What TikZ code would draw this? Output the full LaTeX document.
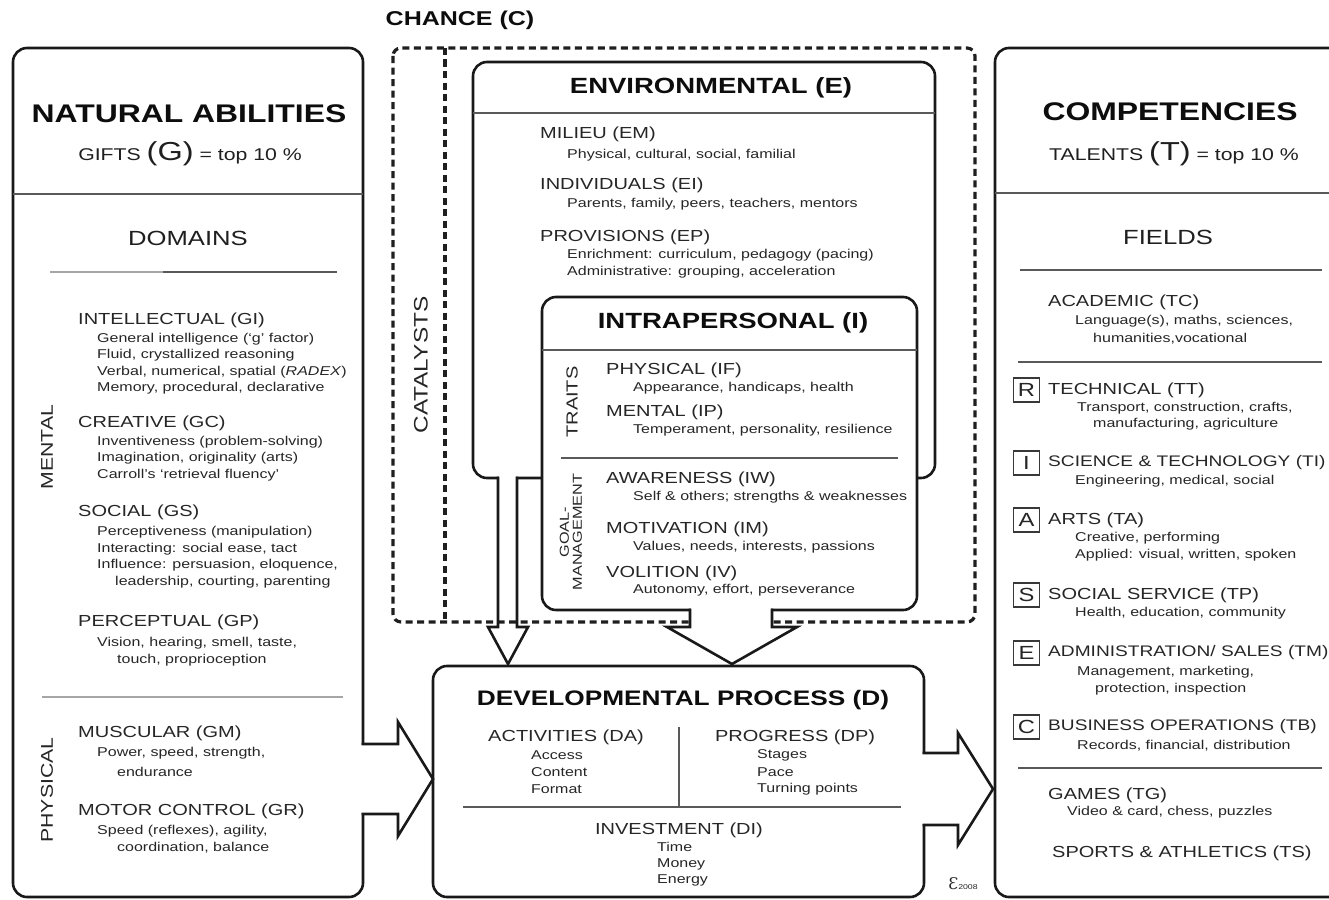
\documentclass[tikz,border=0pt]{standalone}
\usepackage{fontspec}
\setmainfont{Liberation Sans}[FakeStretch=1.25]
\newfontfamily\logofont{DejaVu Serif}
\newcommand\setfs[1]{\fontsize{#1}{#1}\selectfont}
\begin{document}
\begin{tikzpicture}[x=1pt,y=-1pt,
  box/.style={line width=2.6pt, draw=black!90, rounded corners=14pt},
  arr/.style={line width=2.6pt, draw=black!90, line join=miter, miter limit=20},
  chance/.style={line width=3.2pt, draw=black!88, dash pattern=on 7pt off 4.5pt},
  sepline/.style={line width=1.3pt, draw=black!65},
  faintline/.style={line width=1.1pt, draw=black!35},
  ttl/.style={font=\bfseries\setfs{22}, text=black!95, inner sep=0pt},
  bigttl/.style={font=\bfseries\setfs{25.5}, text=black!95, inner sep=0pt},
  sect/.style={font=\setfs{20.5}, text=black!88, inner sep=0pt},
  hd/.style={anchor=west, font=\setfs{16}, text=black!85, inner sep=0pt},
  sb/.style={anchor=west, font=\setfs{12.8}, text=black!85, inner sep=0pt},
  side/.style={rotate=90, font=\setfs{17}, text=black!85, inner sep=0pt},
  lbox/.style={draw=black!78, line width=1.2pt, minimum width=26pt, minimum height=24pt, inner sep=0pt, font=\setfs{19}, text=black!85},
]
\useasboundingbox (0,0) rectangle (1329,899);
\fill[white] (0,0) rectangle (1329,899);
\clip (0,0) rectangle (1329,899);

% ---------- CHANCE ----------
\node[ttl, font=\bfseries\setfs{20}] (chance) at (460,20) {CHANCE (C)};
\draw[chance, rounded corners=8pt] (393,48) rectangle (975,622);
\draw[chance] (445,48) -- (445,622);
\node[side, font=\setfs{19.5}] (catalysts) at (421,365) {CATALYSTS};

% ---------- ENVIRONMENTAL ----------
\draw[box] (473,62) rectangle (935,478);
\fill[white] (499.4,475) rectangle (515.6,481);
\draw[arr] (498,476.7) -- (498,627) -- (488,627) -- (508,664) -- (528,627) -- (517,627) -- (517,476.7);
\node[ttl] (envt) at (711,88) {ENVIRONMENTAL (E)};
\draw[sepline] (473,113) -- (935,113);
\node[hd] (em) at (540,134) {MILIEU (EM)};
\node[sb] (em1) at (567,155) {Physical, cultural, social, familial};
\node[hd] (ei) at (540,185) {INDIVIDUALS (EI)};
\node[sb] (ei1) at (567,204) {Parents, family, peers, teachers, mentors};
\node[hd] (ep) at (540,237) {PROVISIONS (EP)};
\node[sb] (ep1) at (567,255) {Enrichment: curriculum, pedagogy (pacing)};
\node[sb] (ep2) at (567,272) {Administrative: grouping, acceleration};

% ---------- INTRAPERSONAL ----------
\draw[box, fill=white] (542,297) rectangle (917,610);
\fill[white] (691.4,606) rectangle (770.6,628);
\draw[arr] (690,608.7) -- (690,627) -- (667,627) -- (732,664) -- (797,627) -- (772,627) -- (772,608.7);
\node[ttl] (intra) at (733,323) {INTRAPERSONAL (I)};
\draw[sepline] (542,350) -- (917,350);
\node[side, font=\setfs{16}] (traits) at (572,402) {TRAITS};
\node[hd] (if) at (606,370) {PHYSICAL (IF)};
\node[sb] (if1) at (633,388) {Appearance, handicaps, health};
\node[hd] (ip) at (606,412) {MENTAL (IP)};
\node[sb] (ip1) at (633,430) {Temperament, personality, resilience};
\draw[sepline] (561,458) -- (898,458);
\node[side, font=\setfs{13}, align=center] (goal) at (571,532) {GOAL-\\MANAGEMENT};
\node[hd] (iw) at (606,479) {AWARENESS (IW)};
\node[sb] (iw1) at (633,497) {Self \& others; strengths \& weaknesses};
\node[hd] (im) at (606,529) {MOTIVATION (IM)};
\node[sb] (im1) at (633,547) {Values, needs, interests, passions};
\node[hd] (iv) at (606,573) {VOLITION (IV)};
\node[sb] (iv1) at (633,590) {Autonomy, effort, perseverance};

% ---------- DEVELOPMENTAL ----------
\draw[box] (433,666) rectangle (924,897);
\fill[white] (921,754.4) rectangle (927,823.6);
\draw[arr] (922.7,753) -- (958,753) -- (958,733) -- (993,789) -- (958,845) -- (958,825) -- (922.7,825);
\node[ttl, font=\bfseries\setfs{21}] (dev) at (683,700) {DEVELOPMENTAL PROCESS (D)};
\node[hd, anchor=center] (da) at (566,737) {ACTIVITIES (DA)};
\node[sb] (da1) at (531,755) {Access};
\node[sb] (da2) at (531,772) {Content};
\node[sb] (da3) at (531,789) {Format};
\draw[sepline] (679,727) -- (679,806);
\node[hd, anchor=center] (dp) at (795,737) {PROGRESS (DP)};
\node[sb] (dp1) at (757,755) {Stages};
\node[sb] (dp2) at (757,772) {Pace};
\node[sb] (dp3) at (757,789) {Turning points};
\draw[sepline] (463,807) -- (901,807);
\node[hd, anchor=center] (di) at (679,830) {INVESTMENT (DI)};
\node[sb] (di1) at (657,847) {Time};
\node[sb] (di2) at (657,864) {Money};
\node[sb] (di3) at (657,880) {Energy};
\node[inner sep=0pt, text=black!85] (logo) at (963,884) {{\logofont\setfs{16}Ɛ}{\setfs{7}2008}};

% ---------- NATURAL ABILITIES ----------
\draw[box] (13,48) rectangle (363,897);
\fill[white] (360,745.4) rectangle (366,812.6);
\draw[arr] (361.7,744) -- (398,744) -- (398,722) -- (433,779) -- (398,836) -- (398,814) -- (361.7,814);
\node[bigttl] (natab) at (189,114) {NATURAL ABILITIES};
\node[inner sep=0pt, text=black!88] (gifts) at (190,154) {\setfs{17}GIFTS {\setfs{26}(G)} = top 10 \%};
\draw[sepline] (13,194) -- (363,194);
\node[sect] (domains) at (188,238) {DOMAINS};
\draw[faintline] (50,272) -- (163,272);
\draw[sepline] (163,272) -- (337,272);
\node[side] (mental) at (47,447) {MENTAL};
\node[hd] (gi) at (78,320) {INTELLECTUAL (GI)};
\node[sb] (gi1) at (97,339) {General intelligence (‘g’ factor)};
\node[sb] (gi2) at (97,355) {Fluid, crystallized reasoning};
\node[sb] (gi3) at (97,372) {Verbal, numerical, spatial (\textit{RADEX})};
\node[sb] (gi4) at (97,388) {Memory, procedural, declarative};
\node[hd] (gc) at (78,423) {CREATIVE (GC)};
\node[sb] (gc1) at (97,442) {Inventiveness (problem-solving)};
\node[sb] (gc2) at (97,458) {Imagination, originality (arts)};
\node[sb] (gc3) at (97,475) {Carroll’s ‘retrieval fluency’};
\node[hd] (gs) at (78,512) {SOCIAL (GS)};
\node[sb] (gs1) at (97,532) {Perceptiveness (manipulation)};
\node[sb] (gs2) at (97,549) {Interacting: social ease, tact};
\node[sb] (gs3) at (97,565) {Influence: persuasion, eloquence,};
\node[sb] (gs4) at (115,582) {leadership, courting, parenting};
\node[hd] (gp) at (78,622) {PERCEPTUAL (GP)};
\node[sb] (gp1) at (97,643) {Vision, hearing, smell, taste,};
\node[sb] (gp2) at (117,660) {touch, proprioception};
\draw[faintline] (42,697) -- (343,697);
\node[side] (physical) at (47,790) {PHYSICAL};
\node[hd] (gm) at (78,733) {MUSCULAR (GM)};
\node[sb] (gm1) at (97,753) {Power, speed, strength,};
\node[sb] (gm2) at (117,772) {endurance};
\node[hd] (gr) at (78,811) {MOTOR CONTROL (GR)};
\node[sb] (gr1) at (97,831) {Speed (reflexes), agility,};
\node[sb] (gr2) at (117,848) {coordination, balance};

% ---------- COMPETENCIES ----------
\draw[box] (995,48) rectangle (1360,897);
\node[bigttl] (comp) at (1170,112) {COMPETENCIES};
\node[inner sep=0pt, text=black!88] (talents) at (1174,154) {\setfs{17}TALENTS {\setfs{26}(T)} = top 10 \%};
\draw[sepline] (995,193) -- (1329,193);
\node[sect] (fields) at (1168,237) {FIELDS};
\draw[sepline] (1020,270) -- (1322,270);
\node[hd] (tc) at (1048,302) {ACADEMIC (TC)};
\node[sb] (tc1) at (1075,321) {Language(s), maths, sciences,};
\node[sb] (tc2) at (1093,339) {humanities,vocational};
\draw[sepline] (1018,362) -- (1322,362);
\node[lbox] (lr) at (1026.5,390) {R};
\node[hd] (tt) at (1048,390) {TECHNICAL (TT)};
\node[sb] (tt1) at (1077,408) {Transport, construction, crafts,};
\node[sb] (tt2) at (1093,424) {manufacturing, agriculture};
\node[lbox] (li) at (1026.5,463) {I};
\node[hd, font=\setfs{15.3}] (ti) at (1048,463) {SCIENCE \& TECHNOLOGY (TI)};
\node[sb] (ti1) at (1075,481) {Engineering, medical, social};
\node[lbox] (la) at (1026.5,520) {A};
\node[hd] (ta) at (1048,520) {ARTS (TA)};
\node[sb] (ta1) at (1075,538) {Creative, performing};
\node[sb] (ta2) at (1075,555) {Applied: visual, written, spoken};
\node[lbox] (ls) at (1026.5,595) {S};
\node[hd] (tp) at (1048,595) {SOCIAL SERVICE (TP)};
\node[sb] (tp1) at (1075,613) {Health, education, community};
\node[lbox] (le) at (1026.5,653) {E};
\node[hd, font=\setfs{15.3}] (tm) at (1048,653) {ADMINISTRATION/ SALES (TM)};
\node[sb] (tm1) at (1077,672) {Management, marketing,};
\node[sb] (tm2) at (1095,689) {protection, inspection};
\node[lbox] (lc) at (1026.5,727) {C};
\node[hd, font=\setfs{15.3}] (tb) at (1048,727) {BUSINESS OPERATIONS (TB)};
\node[sb] (tb1) at (1077,746) {Records, financial, distribution};
\draw[sepline] (1018,768) -- (1322,768);
\node[hd] (tg) at (1048,795) {GAMES (TG)};
\node[sb] (tg1) at (1067,812) {Video \& card, chess, puzzles};
\node[hd] (ts) at (1052,853) {SPORTS \& ATHLETICS (TS)};
\end{tikzpicture}
\end{document}
